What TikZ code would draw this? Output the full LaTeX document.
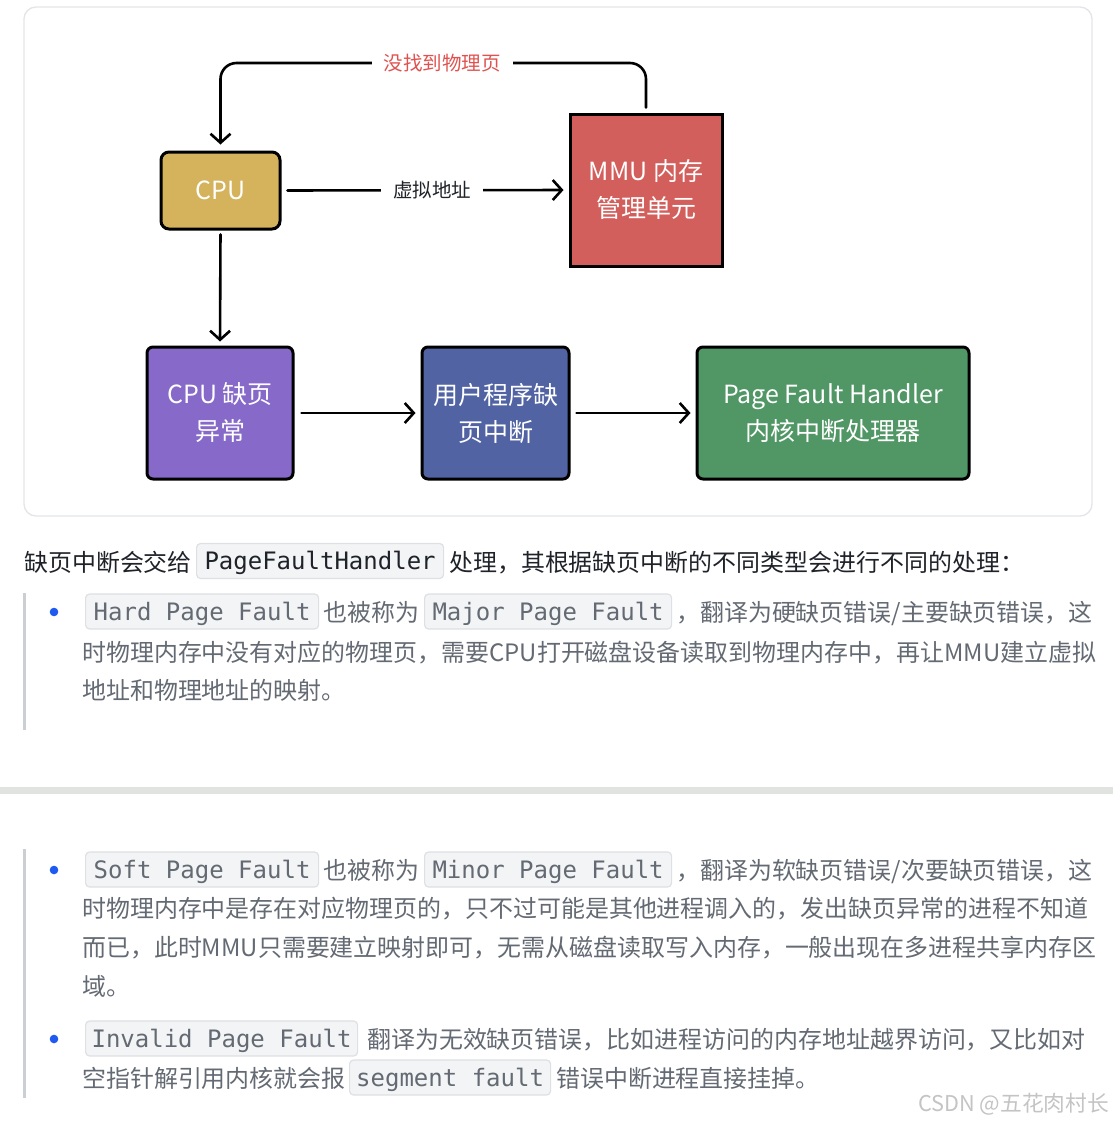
\documentclass[tikz,border=0pt]{standalone}
\usepackage{fontspec}
\setmainfont{Noto Sans CJK SC}
\newfontfamily\codefont{DejaVu Sans Mono}
\usetikzlibrary{arrows.meta}
\definecolor{cpuY}{HTML}{D4B35C}
\definecolor{mmuR}{HTML}{D35F5C}
\definecolor{purp}{HTML}{8669C8}
\definecolor{blu}{HTML}{5163A3}
\definecolor{grn}{HTML}{519766}
\definecolor{lblred}{HTML}{E0524F}
\definecolor{frm}{HTML}{E3E5E8}
\definecolor{txt}{HTML}{1F2329}
\definecolor{qtxt}{HTML}{646A73}
\definecolor{codebg}{HTML}{F3F4F5}
\definecolor{codebd}{HTML}{DEE0E3}
\definecolor{barc}{HTML}{CBCED3}
\definecolor{bul}{HTML}{1F5AF0}
\definecolor{sepc}{HTML}{E1E3E1}
\definecolor{wm}{HTML}{C4C4C4}
\begin{document}
\begin{tikzpicture}[x=1pt,y=-1pt,
  box/.style={draw=black, line width=3pt, text=white, align=center, inner sep=0pt,
    font=\fontsize{25}{37}\selectfont},
  arr/.style={line width=2.6pt, line cap=round, line join=round,
    -{Straight Barb[length=9pt,width=20pt]}},
  lbl/.style={fill=white, inner xsep=12pt, inner ysep=2pt, font=\fontsize{19.5}{22}\selectfont},
  body/.style={anchor=base west, inner sep=0pt, font=\fontsize{23.95}{39}\selectfont, text=txt},
  qbody/.style={body, text=qtxt},
  code/.style={draw=codebd, fill=codebg, rounded corners=4pt, line width=1.2pt,
    font=\codefont\fontsize{24}{30}\selectfont, inner xsep=0pt, inner ysep=0pt,
    minimum height=35pt, text height=21pt, text depth=3.6pt, anchor=west, text=qtxt},
  barst/.style={fill=barc, draw=none},
  bullet/.style={circle, fill=bul, inner sep=0pt, minimum size=8.6pt}
]
\useasboundingbox (0,0) rectangle (1113,1125);
\fill[white] (0,0) rectangle (1113,1125);

% ---------- diagram frame ----------
\draw[frm, line width=1.3pt, rounded corners=12pt] (24,7) rectangle (1092,516);

% ---------- nodes ----------
\node[box, fill=cpuY, rounded corners=8pt, minimum width=119pt, minimum height=77pt] (cpu) at (220.5,190.5) {CPU};
\node[box, fill=mmuR, minimum width=152pt, minimum height=152pt] (mmu) at (646,190) {MMU 内存\\管理单元};
\node[box, fill=purp, rounded corners=6pt, minimum width=146pt, minimum height=132pt] (pf) at (220,413) {CPU 缺页\\异常};
\node[box, fill=blu, rounded corners=6pt, minimum width=147pt, minimum height=132pt] (ui) at (495.5,413) {用户程序缺\\页中断};
\node[box, fill=grn, rounded corners=6pt, minimum width=272pt, minimum height=132pt] (pfh) at (833,413) {Page Fault Handler\\内核中断处理器};

\coordinate (loopy) at (0,63);

% ---------- connectors ----------
\draw[arr, rounded corners=16pt, shorten <=5pt, shorten >=6pt]
  (mmu.north) -- (mmu.north |- loopy) -- (cpu.north |- loopy) -- (cpu.north);
\node[lbl, text=lblred] (nf) at (442,63) {没找到物理页};

\draw[arr, shorten <=6pt, shorten >=5pt] (cpu.east) -- (mmu.west);
\node[lbl, text=txt] (va) at (432,190) {虚拟地址};

\draw[arr, shorten <=4pt, shorten >=4pt] (cpu.south) -- (pf.north);
\draw[arr, shorten <=7pt, shorten >=5pt] (pf.east) -- (ui.west);
\draw[arr, shorten <=6pt, shorten >=5pt] (ui.east) -- (pfh.west);

% ---------- text: intro line ----------
\node[body] (t1a) at (24,571) {缺页中断会交给};
\node[code, text=txt, minimum width=247pt] (c1) at (196,561) {PageFaultHandler};
\node[body] (t1b) at (449,571) {处理，其根据缺页中断的不同类型会进行不同的处理：};

% ---------- quote 1 ----------
\path[barst] (23,593) rectangle (26,730);
\node[bullet] (b1) at (54,612) {};
\node[code, minimum width=233pt] (c2) at (85,611.5) {Hard Page Fault};
\node[qbody] (t2a) at (323,621) {也被称为};
\node[code, minimum width=247pt] (c3) at (424,611.5) {Major Page Fault};
\node[qbody] (t2b) at (676,621) {，翻译为硬缺页错误/主要缺页错误，这};
\node[qbody] (t3) at (82,661) {时物理内存中没有对应的物理页，需要CPU打开磁盘设备读取到物理内存中，再让MMU建立虚拟};
\node[qbody] (t4) at (82,699) {地址和物理地址的映射。};

% ---------- separator ----------
\fill[sepc] (0,787) rectangle (1113,794);

% ---------- quote 2 ----------
\path[barst] (23,849) rectangle (26,1098);
\node[bullet] (b2) at (54,870) {};
\node[code, minimum width=233pt] (c4) at (85,869.5) {Soft Page Fault};
\node[qbody] (t5a) at (323,879) {也被称为};
\node[code, minimum width=247pt] (c5) at (424,869.5) {Minor Page Fault};
\node[qbody] (t5b) at (676,879) {，翻译为软缺页错误/次要缺页错误，这};
\node[qbody] (t6) at (82,917) {时物理内存中是存在对应物理页的，只不过可能是其他进程调入的，发出缺页异常的进程不知道};
\node[qbody] (t7) at (82,956) {而已，此时MMU只需要建立映射即可，无需从磁盘读取写入内存，一般出现在多进程共享内存区};
\node[qbody] (t8) at (82,995) {域。};

\node[bullet] (b3) at (54,1039) {};
\node[code, minimum width=272pt] (c6) at (85,1038.5) {Invalid Page Fault};
\node[qbody] (t9a) at (367,1048) {翻译为无效缺页错误，比如进程访问的内存地址越界访问，又比如对};
\node[qbody] (t10a) at (82,1087) {空指针解引用内核就会报};
\node[code, minimum width=201pt] (c7) at (349,1077.5) {segment fault};
\node[qbody] (t10b) at (556,1087) {错误中断进程直接挂掉。};

% ---------- watermark ----------
\node[anchor=base west, inner sep=0pt, text=wm, font=\fontsize{21.7}{24}\selectfont] (wmk) at (918,1111) {CSDN @五花肉村长};
\end{tikzpicture}
\end{document}
